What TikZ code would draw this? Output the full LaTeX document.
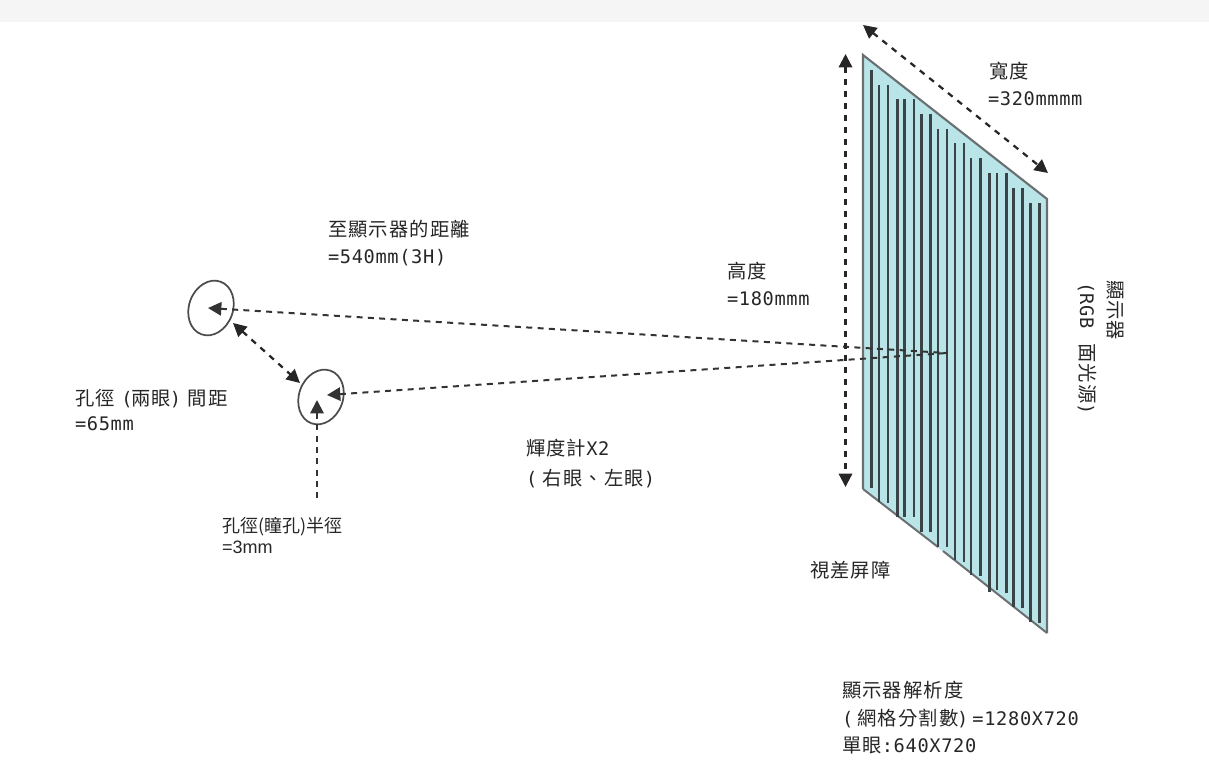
\documentclass[tikz,border=0pt]{standalone}
\usepackage{fontspec}
\usetikzlibrary{arrows.meta,shapes.geometric}
\newfontfamily\cjk[LetterSpace=6]{Noto Sans CJK TC}
\newfontfamily\cjkserif{Noto Sans CJK TC}
\newfontfamily\mono[LetterSpace=3.5]{DejaVu Sans Mono}
\newfontfamily\arialish{Liberation Sans}
\newcommand{\C}[1]{{\cjk #1}}
\newcommand{\M}[1]{{\mono\fontsize{14pt}{16pt}\selectfont #1}}
\newcommand{\LP}{\kern5pt\M{(}\kern-1pt}
\newcommand{\RP}{\kern-1pt\M{)}\kern5pt}
\definecolor{panelfill}{HTML}{B9E5E8}
\definecolor{stripe}{HTML}{3A4345}
\definecolor{edge}{HTML}{6A7072}
\definecolor{band}{HTML}{F5F5F5}
\tikzset{
  lbl/.style={anchor=base west,inner sep=0pt,outer sep=0pt,font=\fontsize{14.5pt}{16pt}\selectfont,text=black!85},
  smalllbl/.style={lbl,font=\fontsize{13.5pt}{15pt}\selectfont},
  dim/.style={draw=black!85,line width=1.7pt,dash pattern=on 4.5pt off 4.5pt,
     {Triangle[length=10pt,width=10pt]}-{Triangle[length=10pt,width=10pt]}},
  one/.style={draw=black!80,line width=1.5pt,dash pattern=on 4.5pt off 4pt,
     {Triangle[length=10pt,width=10pt]}-},
  eye/.style={draw=black!70,line width=1.3pt,ellipse,inner sep=0pt,minimum width=33pt,minimum height=42pt,rotate=-20},
  stripeline/.style={draw=stripe,line width=1.9pt},
}
\begin{document}
\begin{tikzpicture}[x=0.75pt,y=-0.75pt]
\useasboundingbox (0,0) rectangle (1209,775);
\fill[band] (0,0) rectangle (1209,22);
% panel
\coordinate (p1) at (863,55);
\coordinate (p2) at (1047,199);
\coordinate (p3) at (1047,633);
\coordinate (p4) at (863,489);
\fill[panelfill] (p1) -- (p2) -- (p3) -- (p4) -- cycle;
\draw[edge,line width=1.6pt] (p4) -- (p1) -- (p2) -- (p3);
\draw[edge,line width=1.5pt] (p4) -- (938,547);
\draw[edge,line width=1.5pt] (943,551) -- (p3);
\foreach \x/\t/\b in {871.3/70/488,879/85/502,888/85/503,897.3/99/517,904.7/99/517,914/99/517,
  921.7/114/532,930.7/114/532,938/129/547,947/129/547,955/143/560,964/143/562,971/158/575,
  980.3/158/576,989.3/173/592,997/173/590,1006.3/173/593,1013.7/188/607,1022.7/188/608,
  1030.3/203/622,1039.7/203/623}
  \draw[stripeline] (\x,\t) -- (\x,\b);
% eyes
\node[eye] (eyeA) at (211,308) {};
\node[eye] (eyeB) at (321,397) {};
% connector ends
\coordinate (focus) at (947,353);
\coordinate (eyeAc) at (208,308);
\coordinate (eyeBc) at (327,395);
\coordinate (pupil) at (317,400);
\coordinate (pupilEnd) at (317,499);
\coordinate (ipdA) at (233,323);
\coordinate (ipdB) at (300,383);
\coordinate (wA) at (863,25);
\coordinate (wB) at (1048,173);
\coordinate (hA) at (845.5,54);
\coordinate (hB) at (845.5,487);
\draw[one] (eyeAc) -- (focus);
\draw[one] (eyeBc) -- (focus);
\draw[one] (pupil) -- (pupilEnd);
\draw[dim] (ipdA) -- (ipdB);
\draw[dim] (wA) -- (wB);
\draw[dim] (hA) -- (hB);
% labels
\node[lbl] (t1) at (989,78) {\C{寬度}};
\node[lbl] (t2) at (988,105) {\M{=320mmmm}};
\node[lbl] (t3) at (328,236) {\C{至顯示器的距離}};
\node[lbl] (t4) at (328,263) {\M{=540mm(3H)}};
\node[lbl] (t5) at (727,278) {\C{高度}};
\node[lbl] (t6) at (727,305) {\M{=180mmm}};
\node[lbl] (t7) at (75,405) {\C{孔徑}\LP\C{兩眼}\RP\C{間距}};
\node[lbl] (t8) at (75,430) {\M{=65mm}};
\node[lbl] (t9) at (526,455) {\C{輝度計}\M{X2}};
\node[lbl] (t10) at (526,485) {\M{(}\kern4pt\C{右眼、左眼}\M{)}};
\node[lbl] (t11) at (222,532) {{\cjkserif\fontsize{13.5pt}{15pt}\selectfont 孔徑(瞳孔)半徑}};
\node[smalllbl] (t12) at (222,553) {{\arialish =3mm}};
\node[lbl] (t13) at (810,577) {\C{視差屏障}};
\node[lbl] (t14) at (842,697) {\C{顯示器解析度}};
\node[lbl] (t15) at (842,725) {\M{(}\kern3pt\C{網格分割數}\kern-1pt\M{)}\kern3pt\M{=1280X720}};
\node[lbl] (t16) at (842,752) {\C{單眼}\M{:640X720}};
\node[lbl,rotate=-90] (t17) at (1108,280) {\C{顯示器}};
\node[lbl,rotate=-90] (t18) at (1080,282) {\M{(RGB }\kern2pt\C{面光源}\M{)}};
\end{tikzpicture}
\end{document}
